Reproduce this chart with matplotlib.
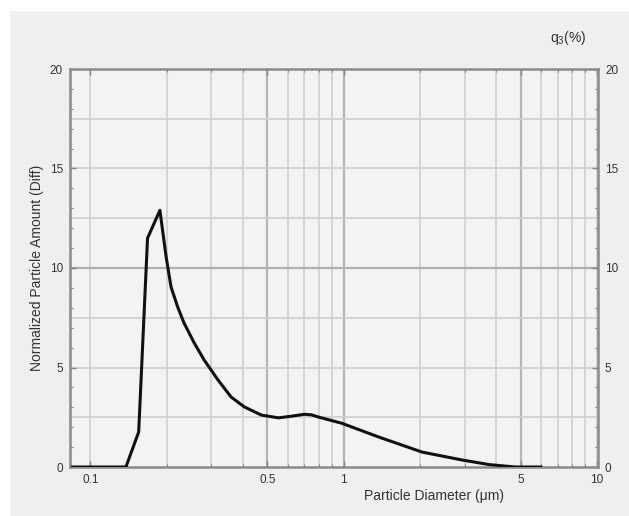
import matplotlib.pyplot as plt
from matplotlib.patches import Rectangle
from matplotlib.ticker import FixedLocator, NullFormatter

plt.rcParams['font.family'] = ['Liberation Sans', 'DejaVu Sans']
plt.rcParams['mathtext.fontset'] = 'custom'
plt.rcParams['mathtext.rm'] = 'Liberation Sans'
plt.rcParams['mathtext.it'] = 'Liberation Sans:italic'

# particle size distribution
diameter = [0.085, 0.138, 0.155, 0.168, 0.188, 0.199, 0.208, 0.221, 0.234, 0.257,
            0.281, 0.319, 0.359, 0.405, 0.473, 0.552, 0.620, 0.700, 0.746, 0.80,
            0.982, 1.38, 2.04, 2.94, 3.76, 4.77, 6.0]
amount = [0.0, 0.0, 1.76, 11.5, 12.9, 10.55, 9.05, 8.04, 7.24, 6.23,
          5.38, 4.37, 3.52, 3.02, 2.61, 2.47, 2.55, 2.65, 2.62, 2.5,
          2.2, 1.5, 0.75, 0.35, 0.12, 0.0, 0.0]

x_ticks = [0.1, 0.5, 1, 5, 10]
x_ticklabels = ['0.1', '0.5', '1', '5', '10']
y_ticks = [0, 5, 10, 15, 20]

fig = plt.figure(figsize=(6.29, 5.16), dpi=100)
fig.patch.set_facecolor('white')
bg = Rectangle((10 / 629, 0), 619 / 629, 505 / 516, transform=fig.transFigure,
               facecolor='#efefef', edgecolor='none', zorder=-10)
fig.patches.append(bg)

ax = fig.add_axes([70 / 629, 1 - 467 / 516, 528 / 629, 398 / 516])
ax.set_facecolor('#f3f3f3')
ax.set_xscale('log')
ax.set_xlim(0.083, 10.1)
ax.set_ylim(0, 20)

# grid lines
minor_x = [m * 10 ** e for e in (-1, 0) for m in range(1, 10)] + [10]
for v in minor_x:
    dark = round(v, 3) in (0.5, 1, 5)
    ax.axvline(v, color='#b4b4b4' if dark else '#d2d2d2', lw=1.6 if dark else 1.3, zorder=1)
for v in [2.5, 5, 7.5, 10, 12.5, 15, 17.5]:
    ax.axhline(v, color='#b0b0b0' if v == 10 else '#d0d0d0', lw=1.6 if v == 10 else 1.3, zorder=1)

ax.plot(diameter, amount, color='#111111', lw=2.2, zorder=3, solid_joinstyle='round')

ax.set_xticks(x_ticks)
ax.set_xticklabels(x_ticklabels)
ax.xaxis.set_minor_locator(FixedLocator(minor_x))
ax.xaxis.set_minor_formatter(NullFormatter())
ax.set_yticks(y_ticks)
ax.yaxis.set_minor_locator(FixedLocator([i for i in range(21)]))
ax.tick_params(which='both', direction='in', top=True, right=True, labelright=True,
               colors='#808080', labelcolor='#333333', labelsize=8.5)
ax.tick_params(which='major', length=4, width=1, pad=5)
ax.tick_params(which='minor', length=2, width=0.8)
for s in ax.spines.values():
    s.set_color('#8a8a8a')
    s.set_linewidth(1.8)

ax.set_ylabel('Normalized Particle Amount (Diff)', fontsize=10, color='#333333')
ax.set_xlabel('Particle Diameter (μm)', fontsize=10, color='#333333')
ax.xaxis.set_label_coords(0.69, -0.055)
fig.text(568 / 629, 1 - 38 / 516, 'q$_3$(%)', fontsize=10, color='#333333', ha='center', va='center')

fig.savefig('out.png', dpi=100, facecolor=fig.get_facecolor())
